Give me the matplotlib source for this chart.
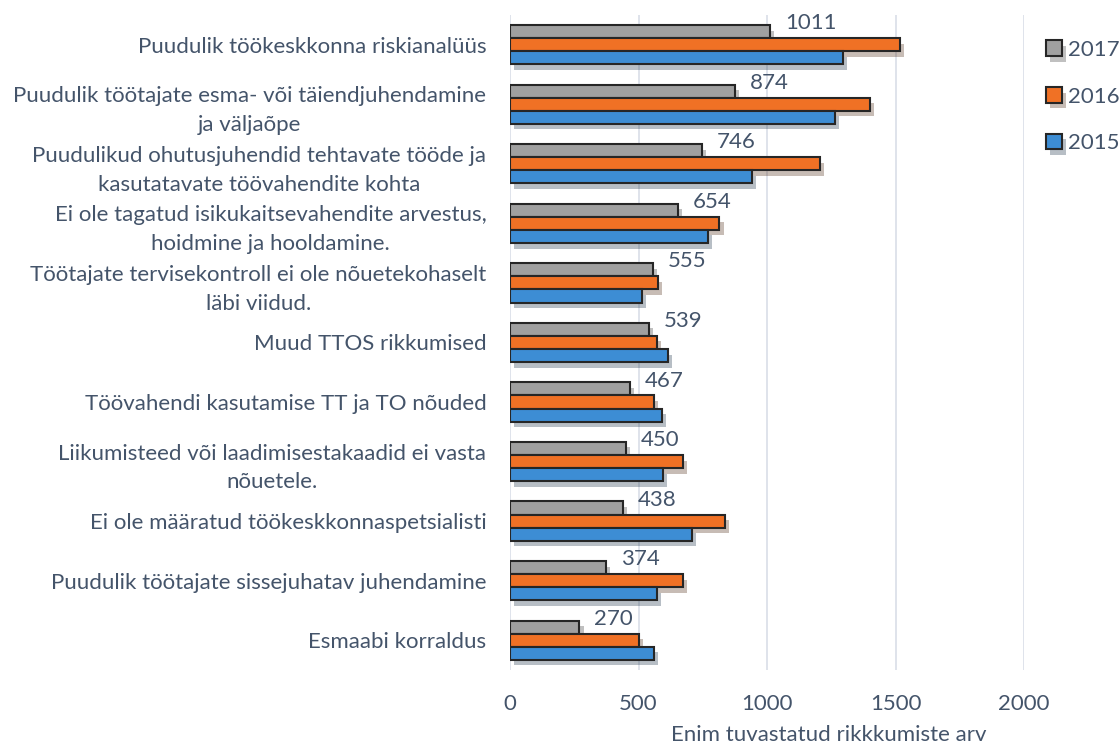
import numpy as np
import matplotlib
matplotlib.use('Agg')
import matplotlib.pyplot as plt
import matplotlib.patheffects as pe

# Data
categories = [
    'Puudulik töökeskkonna riskianalüüs',
    'Puudulik töötajate esma- või täiendjuhendamine\nja väljaõpe',
    'Puudulikud ohutusjuhendid tehtavate tööde ja\nkasutatavate töövahendite kohta',
    'Ei ole tagatud isikukaitsevahendite arvestus,\nhoidmine ja hooldamine.',
    'Töötajate tervisekontroll ei ole nõuetekohaselt\nläbi viidud.',
    'Muud TTOS rikkumised',
    'Töövahendi kasutamise TT ja TO nõuded',
    'Liikumisteed või laadimisestakaadid ei vasta\nnõuetele.',
    'Ei ole määratud töökeskkonnaspetsialisti',
    'Puudulik töötajate sissejuhatav juhendamine',
    'Esmaabi korraldus',
]
v2017 = [1011, 874, 746, 654, 555, 539, 467, 450, 438, 374, 270]
v2016 = [1517, 1401, 1206, 815, 575, 572, 561, 672, 836, 674, 500]
v2015 = [1296, 1265, 942, 771, 514, 615, 591, 594, 708, 572, 559]
xticks = [0, 500, 1000, 1500, 2000]

plt.rcParams['font.family'] = ['Lato', 'DejaVu Sans']
txt = '#44546A'
fs = 16

fig = plt.figure(figsize=(11.2, 7.45), dpi=100)
ax = fig.add_axes([0.4554, 0.1007, 0.4589, 0.8792])

y = np.arange(len(categories))
h = 0.22
shadow = [pe.SimplePatchShadow(offset=(3, -4), alpha=0.3), pe.Normal()]
series = [('2017', v2017, '#A0A0A0', -h), ('2016', v2016, '#F07125', 0), ('2015', v2015, '#3D8DD4', h)]
handles = []
for name, vals, col, off in series:
    bars = ax.barh(y + off, vals, height=h, color=col, edgecolor='#262626', linewidth=1.5, label=name, zorder=3)
    for b in bars:
        b.set_path_effects(shadow)
    handles.append(bars)

# labels for 2017
for yi, v in zip(y, v2017):
    ax.text(v + 58, yi - h - 0.14, str(v), color=txt, fontsize=fs, va='center', ha='left', zorder=4)

ax.set_xlim(0, 2000)
ax.set_ylim(len(categories) - 0.5, -0.5)
ax.set_xticks(xticks)
ax.set_yticks(y)
ax.set_yticklabels(categories, multialignment='center', linespacing=1.55)
ax.grid(axis='x', color='#D9DEE8', linewidth=1.2, zorder=0)
for s in ax.spines.values():
    s.set_visible(False)
ax.tick_params(axis='both', length=0, labelcolor=txt, labelsize=fs)
ax.tick_params(axis='x', pad=17)
ax.tick_params(axis='y', pad=17)
ax.set_xlabel('Enim tuvastatud rikkkumiste arv', color=txt, fontsize=fs)
ax.xaxis.label.set_va('center')
ax.xaxis.set_label_coords(0.62, -0.1)

fig.legend(handles=handles, labels=['2017', '2016', '2015'], loc='upper left',
           bbox_to_anchor=(1046 / 1120, 1 - 40 / 745), frameon=False,
           borderpad=0, borderaxespad=0,
           labelcolor=txt, fontsize=fs, labelspacing=1.2,
           handlelength=0.7, handleheight=0.7, handletextpad=0.3)

fig.savefig('out.png', dpi=100)
